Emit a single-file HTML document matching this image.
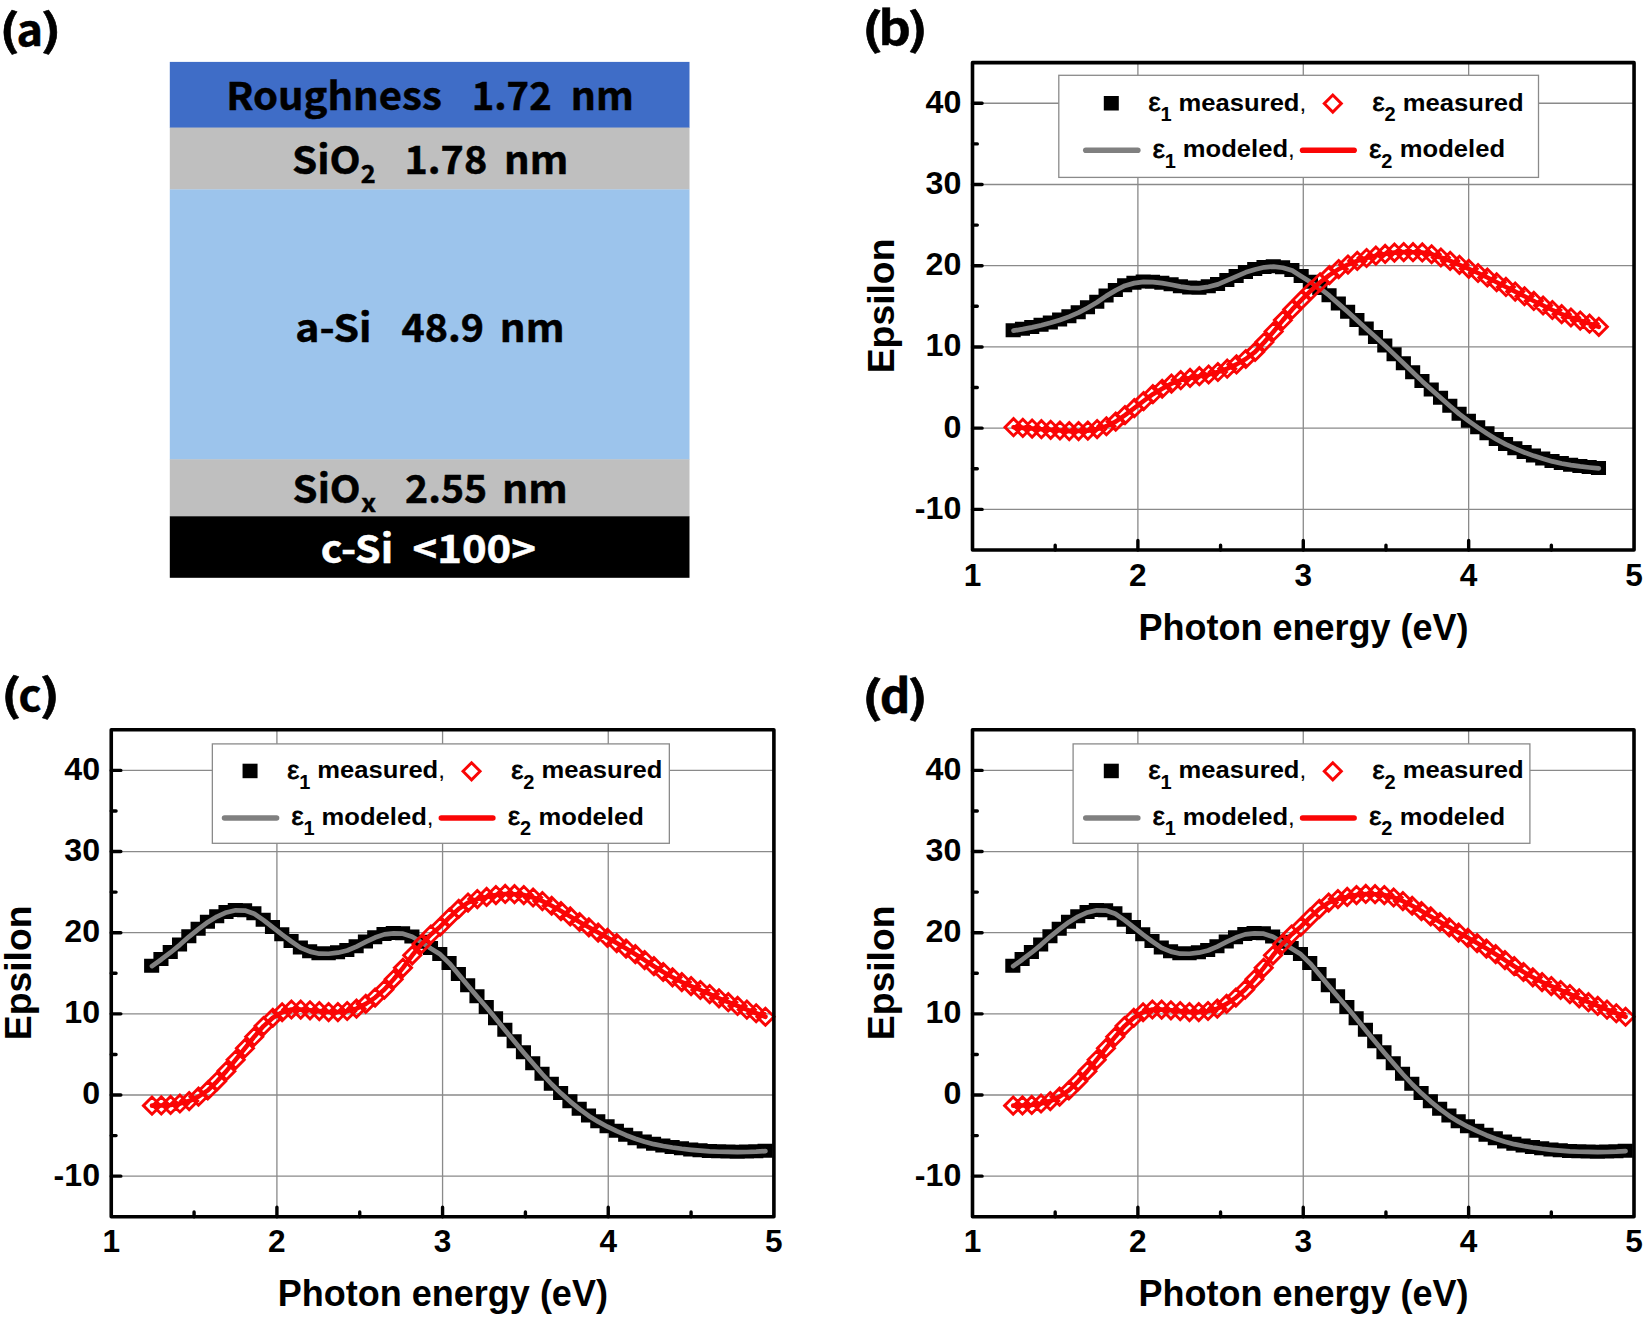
<!DOCTYPE html>
<html lang="en"><head><meta charset="utf-8"><title>Ellipsometry model and dielectric functions</title>
<style>html,body{margin:0;padding:0;background:#fff}svg{display:block}</style></head>
<body>
<svg width="1650" height="1318" viewBox="0 0 1650 1318">
<rect width="1650" height="1318" fill="#fff"/>
<rect x="169.8" y="61.9" width="519.7" height="66" fill="#3f6dc7"/>
<rect x="169.8" y="127.6" width="519.7" height="62" fill="#bfbfbf"/>
<rect x="169.8" y="189.4" width="519.7" height="270.3" fill="#9cc4ec"/>
<rect x="169.8" y="459.3" width="519.7" height="57.5" fill="#bfbfbf"/>
<rect x="169.8" y="516.3" width="519.7" height="61.5" fill="#000"/>
<text font-family="Noto Sans CJK KR, Liberation Sans, sans-serif" font-weight="bold" fill="#000" stroke="#000" stroke-width="0.5"><tspan x="226.15" y="109.9" font-size="38.4" textLength="215.58" lengthAdjust="spacingAndGlyphs">Roughness</tspan> <tspan x="471.71" y="109.9" font-size="38.4" textLength="79.96" lengthAdjust="spacingAndGlyphs">1.72</tspan> <tspan x="570.88" y="109.9" font-size="38.4" textLength="62.95" lengthAdjust="spacingAndGlyphs">nm</tspan></text>
<text font-family="Noto Sans CJK KR, Liberation Sans, sans-serif" font-weight="bold" fill="#000" stroke="#000" stroke-width="0.5"><tspan x="292.01" y="174.4" font-size="38.4" textLength="68.69" lengthAdjust="spacingAndGlyphs">SiO</tspan><tspan x="360.89" y="183.4" font-size="25" textLength="14.88" lengthAdjust="spacingAndGlyphs">2</tspan> <tspan x="404.50" y="174.4" font-size="38.4" textLength="82.72" lengthAdjust="spacingAndGlyphs">1.78</tspan> <tspan x="504.14" y="174.4" font-size="38.4" textLength="64.25" lengthAdjust="spacingAndGlyphs">nm</tspan></text>
<text font-family="Noto Sans CJK KR, Liberation Sans, sans-serif" font-weight="bold" fill="#000" stroke="#000" stroke-width="0.5"><tspan x="295.28" y="341.5" font-size="38.4" textLength="76.28" lengthAdjust="spacingAndGlyphs">a-Si</tspan> <tspan x="401.50" y="341.5" font-size="38.4" textLength="82.52" lengthAdjust="spacingAndGlyphs">48.9</tspan> <tspan x="499.82" y="341.5" font-size="38.4" textLength="64.68" lengthAdjust="spacingAndGlyphs">nm</tspan></text>
<text font-family="Noto Sans CJK KR, Liberation Sans, sans-serif" font-weight="bold" fill="#000" stroke="#000" stroke-width="0.5"><tspan x="292.63" y="503.2" font-size="38.4" textLength="68.05" lengthAdjust="spacingAndGlyphs">SiO</tspan><tspan x="361.30" y="512.2" font-size="25" textLength="14.76" lengthAdjust="spacingAndGlyphs">x</tspan> <tspan x="405.04" y="503.2" font-size="38.4" textLength="82.17" lengthAdjust="spacingAndGlyphs">2.55</tspan> <tspan x="502.09" y="503.2" font-size="38.4" textLength="65.76" lengthAdjust="spacingAndGlyphs">nm</tspan></text>
<text font-family="Noto Sans CJK KR, Liberation Sans, sans-serif" font-weight="bold" fill="#fff" stroke="#fff" stroke-width="0.5"><tspan x="320.89" y="563.1" font-size="38.4" textLength="72.25" lengthAdjust="spacingAndGlyphs">c-Si</tspan> <tspan x="412.47" y="563.1" font-size="38.4" textLength="123.54" lengthAdjust="spacingAndGlyphs">&lt;100&gt;</tspan></text>
<text font-family="Noto Sans CJK KR, Liberation Sans, sans-serif" font-weight="bold" fill="#000" stroke="#000" stroke-width="0.5"><tspan x="-0.66" y="46.1" font-size="43" textLength="20.68" lengthAdjust="spacingAndGlyphs">(</tspan><tspan x="16.55" y="46.1" font-size="42" textLength="26.57" lengthAdjust="spacingAndGlyphs">a</tspan><tspan x="40.57" y="46.1" font-size="43" textLength="21.15" lengthAdjust="spacingAndGlyphs">)</tspan></text>
<text font-family="Noto Sans CJK KR, Liberation Sans, sans-serif" font-weight="bold" fill="#000" stroke="#000" stroke-width="0.5"><tspan x="861.68" y="45.0" font-size="43" textLength="21.47" lengthAdjust="spacingAndGlyphs">(</tspan><tspan x="878.62" y="45.0" font-size="46" textLength="32.45" lengthAdjust="spacingAndGlyphs">b</tspan><tspan x="907.29" y="45.0" font-size="43" textLength="21.00" lengthAdjust="spacingAndGlyphs">)</tspan></text>
<text font-family="Noto Sans CJK KR, Liberation Sans, sans-serif" font-weight="bold" fill="#000" stroke="#000" stroke-width="0.5"><tspan x="0.91" y="710.6" font-size="43" textLength="20.60" lengthAdjust="spacingAndGlyphs">(</tspan><tspan x="18.40" y="710.6" font-size="42" textLength="23.10" lengthAdjust="spacingAndGlyphs">c</tspan><tspan x="39.43" y="710.6" font-size="43" textLength="20.68" lengthAdjust="spacingAndGlyphs">)</tspan></text>
<text font-family="Noto Sans CJK KR, Liberation Sans, sans-serif" font-weight="bold" fill="#000" stroke="#000" stroke-width="0.5"><tspan x="861.68" y="713.0" font-size="43" textLength="21.47" lengthAdjust="spacingAndGlyphs">(</tspan><tspan x="879.72" y="713.0" font-size="46" textLength="30.73" lengthAdjust="spacingAndGlyphs">d</tspan><tspan x="907.29" y="713.0" font-size="43" textLength="21.00" lengthAdjust="spacingAndGlyphs">)</tspan></text>
<path d="M1137.89 62.65V550.00M1303.28 62.65V550.00M1468.66 62.65V550.00M972.50 509.39H1634.05M972.50 428.16H1634.05M972.50 346.94H1634.05M972.50 265.71H1634.05M972.50 184.49H1634.05M972.50 103.26H1634.05" stroke="#8a8a8a" stroke-width="1.3" fill="none"/>
<path d="M1005.62 323.29h15.1v14h-15.1zM1014.91 321.78h15.1v14h-15.1zM1024.20 319.97h15.1v14h-15.1zM1033.49 317.86h15.1v14h-15.1zM1042.78 315.38h15.1v14h-15.1zM1052.07 312.53h15.1v14h-15.1zM1061.36 309.19h15.1v14h-15.1zM1070.65 305.17h15.1v14h-15.1zM1079.94 300.35h15.1v14h-15.1zM1089.23 294.85h15.1v14h-15.1zM1098.52 288.48h15.1v14h-15.1zM1107.81 282.96h15.1v14h-15.1zM1117.10 278.29h15.1v14h-15.1zM1126.39 275.73h15.1v14h-15.1zM1135.68 274.41h15.1v14h-15.1zM1144.97 274.80h15.1v14h-15.1zM1154.27 275.75h15.1v14h-15.1zM1163.56 277.36h15.1v14h-15.1zM1172.85 279.20h15.1v14h-15.1zM1182.14 280.41h15.1v14h-15.1zM1191.43 280.71h15.1v14h-15.1zM1200.72 279.36h15.1v14h-15.1zM1210.01 276.98h15.1v14h-15.1zM1219.30 272.95h15.1v14h-15.1zM1228.59 268.99h15.1v14h-15.1zM1237.88 264.95h15.1v14h-15.1zM1247.17 262.08h15.1v14h-15.1zM1256.46 259.93h15.1v14h-15.1zM1265.75 259.15h15.1v14h-15.1zM1275.04 260.33h15.1v14h-15.1zM1284.33 263.08h15.1v14h-15.1zM1293.62 269.10h15.1v14h-15.1zM1302.91 274.86h15.1v14h-15.1zM1312.21 281.05h15.1v14h-15.1zM1321.50 288.30h15.1v14h-15.1zM1330.79 296.47h15.1v14h-15.1zM1340.08 304.70h15.1v14h-15.1zM1349.37 313.12h15.1v14h-15.1zM1358.66 321.52h15.1v14h-15.1zM1367.95 329.88h15.1v14h-15.1zM1377.24 338.43h15.1v14h-15.1zM1386.53 347.24h15.1v14h-15.1zM1395.82 356.13h15.1v14h-15.1zM1405.11 365.15h15.1v14h-15.1zM1414.40 374.01h15.1v14h-15.1zM1423.69 382.45h15.1v14h-15.1zM1432.98 390.65h15.1v14h-15.1zM1442.27 398.81h15.1v14h-15.1zM1451.56 406.71h15.1v14h-15.1zM1460.85 413.78h15.1v14h-15.1zM1470.14 420.23h15.1v14h-15.1zM1479.44 426.30h15.1v14h-15.1zM1488.73 432.03h15.1v14h-15.1zM1498.02 436.99h15.1v14h-15.1zM1507.31 441.27h15.1v14h-15.1zM1516.60 445.05h15.1v14h-15.1zM1525.89 448.46h15.1v14h-15.1zM1535.18 451.41h15.1v14h-15.1zM1544.47 453.99h15.1v14h-15.1zM1553.76 456.11h15.1v14h-15.1zM1563.05 457.71h15.1v14h-15.1zM1572.34 459.00h15.1v14h-15.1zM1581.63 460.06h15.1v14h-15.1zM1590.92 460.93h15.1v14h-15.1z" fill="#000"/>
<path d="M1013.52 330.69L1022.81 329.18L1032.10 327.37L1041.39 325.26L1050.68 322.78L1059.97 319.93L1069.26 316.59L1078.55 312.57L1087.84 307.75L1097.13 302.25L1106.42 295.88L1115.71 290.36L1125.00 285.69L1134.29 283.13L1143.58 281.81L1152.87 282.20L1162.17 283.15L1171.46 284.76L1180.75 286.60L1190.04 287.81L1199.33 288.11L1208.62 286.76L1217.91 284.38L1227.20 280.35L1236.49 276.39L1245.78 272.35L1255.07 269.48L1264.36 267.33L1273.65 266.55L1282.94 267.73L1292.23 270.48L1301.52 276.50L1310.81 282.26L1320.11 288.45L1329.40 295.70L1338.69 303.87L1347.98 312.10L1357.27 320.52L1366.56 328.92L1375.85 337.28L1385.14 345.83L1394.43 354.64L1403.72 363.53L1413.01 372.55L1422.30 381.41L1431.59 389.85L1440.88 398.05L1450.17 406.21L1459.46 414.11L1468.75 421.18L1478.04 427.63L1487.34 433.70L1496.63 439.43L1505.92 444.39L1515.21 448.67L1524.50 452.45L1533.79 455.86L1543.08 458.81L1552.37 461.39L1561.66 463.51L1570.95 465.11L1580.24 466.40L1589.53 467.46L1598.82 468.33" stroke="#808080" stroke-width="4.7" fill="none" stroke-linecap="round" stroke-linejoin="round"/>
<path d="M1013.52 427.19L1022.81 427.87L1032.10 428.54L1041.39 429.19L1050.68 429.83L1059.97 430.52L1069.26 431.11L1078.55 431.07L1087.84 430.63L1097.13 429.07L1106.42 426.25L1115.71 421.65L1125.00 415.13L1134.29 408.22L1143.58 401.05L1152.87 394.17L1162.17 388.73L1171.46 383.64L1180.75 380.12L1190.04 377.91L1199.33 376.17L1208.62 374.49L1217.91 371.98L1227.20 368.68L1236.49 364.38L1245.78 358.98L1255.07 351.88L1264.36 342.12L1273.65 331.42L1282.94 320.12L1292.23 309.43L1301.52 299.93L1310.81 290.73L1320.11 282.23L1329.40 275.15L1338.69 269.11L1347.98 264.53L1357.27 260.90L1366.56 258.02L1375.85 255.61L1385.14 253.92L1394.43 252.58L1403.72 252.07L1413.01 252.19L1422.30 252.47L1431.59 254.27L1440.88 257.52L1450.17 260.89L1459.46 264.80L1468.75 268.81L1478.04 273.01L1487.34 277.48L1496.63 282.25L1505.92 286.97L1515.21 291.61L1524.50 296.24L1533.79 300.93L1543.08 305.50L1552.37 310.01L1561.66 314.14L1570.95 317.50L1580.24 320.53L1589.53 323.67L1598.82 326.80" stroke="#fa0505" stroke-width="4.6" fill="none" stroke-linecap="round" stroke-linejoin="round"/>
<path d="M1004.97 427.19l8.55 -8.55l8.55 8.55l-8.55 8.55zM1014.26 427.87l8.55 -8.55l8.55 8.55l-8.55 8.55zM1023.55 428.54l8.55 -8.55l8.55 8.55l-8.55 8.55zM1032.84 429.19l8.55 -8.55l8.55 8.55l-8.55 8.55zM1042.13 429.83l8.55 -8.55l8.55 8.55l-8.55 8.55zM1051.42 430.52l8.55 -8.55l8.55 8.55l-8.55 8.55zM1060.71 431.11l8.55 -8.55l8.55 8.55l-8.55 8.55zM1070.00 431.07l8.55 -8.55l8.55 8.55l-8.55 8.55zM1079.29 430.63l8.55 -8.55l8.55 8.55l-8.55 8.55zM1088.58 429.07l8.55 -8.55l8.55 8.55l-8.55 8.55zM1097.87 426.25l8.55 -8.55l8.55 8.55l-8.55 8.55zM1107.16 421.65l8.55 -8.55l8.55 8.55l-8.55 8.55zM1116.45 415.13l8.55 -8.55l8.55 8.55l-8.55 8.55zM1125.74 408.22l8.55 -8.55l8.55 8.55l-8.55 8.55zM1135.03 401.05l8.55 -8.55l8.55 8.55l-8.55 8.55zM1144.32 394.17l8.55 -8.55l8.55 8.55l-8.55 8.55zM1153.62 388.73l8.55 -8.55l8.55 8.55l-8.55 8.55zM1162.91 383.64l8.55 -8.55l8.55 8.55l-8.55 8.55zM1172.20 380.12l8.55 -8.55l8.55 8.55l-8.55 8.55zM1181.49 377.91l8.55 -8.55l8.55 8.55l-8.55 8.55zM1190.78 376.17l8.55 -8.55l8.55 8.55l-8.55 8.55zM1200.07 374.49l8.55 -8.55l8.55 8.55l-8.55 8.55zM1209.36 371.98l8.55 -8.55l8.55 8.55l-8.55 8.55zM1218.65 368.68l8.55 -8.55l8.55 8.55l-8.55 8.55zM1227.94 364.38l8.55 -8.55l8.55 8.55l-8.55 8.55zM1237.23 358.98l8.55 -8.55l8.55 8.55l-8.55 8.55zM1246.52 351.88l8.55 -8.55l8.55 8.55l-8.55 8.55zM1255.81 342.12l8.55 -8.55l8.55 8.55l-8.55 8.55zM1265.10 331.42l8.55 -8.55l8.55 8.55l-8.55 8.55zM1274.39 320.12l8.55 -8.55l8.55 8.55l-8.55 8.55zM1283.68 309.43l8.55 -8.55l8.55 8.55l-8.55 8.55zM1292.97 299.93l8.55 -8.55l8.55 8.55l-8.55 8.55zM1302.26 290.73l8.55 -8.55l8.55 8.55l-8.55 8.55zM1311.56 282.23l8.55 -8.55l8.55 8.55l-8.55 8.55zM1320.85 275.15l8.55 -8.55l8.55 8.55l-8.55 8.55zM1330.14 269.11l8.55 -8.55l8.55 8.55l-8.55 8.55zM1339.43 264.53l8.55 -8.55l8.55 8.55l-8.55 8.55zM1348.72 260.90l8.55 -8.55l8.55 8.55l-8.55 8.55zM1358.01 258.02l8.55 -8.55l8.55 8.55l-8.55 8.55zM1367.30 255.61l8.55 -8.55l8.55 8.55l-8.55 8.55zM1376.59 253.92l8.55 -8.55l8.55 8.55l-8.55 8.55zM1385.88 252.58l8.55 -8.55l8.55 8.55l-8.55 8.55zM1395.17 252.07l8.55 -8.55l8.55 8.55l-8.55 8.55zM1404.46 252.19l8.55 -8.55l8.55 8.55l-8.55 8.55zM1413.75 252.47l8.55 -8.55l8.55 8.55l-8.55 8.55zM1423.04 254.27l8.55 -8.55l8.55 8.55l-8.55 8.55zM1432.33 257.52l8.55 -8.55l8.55 8.55l-8.55 8.55zM1441.62 260.89l8.55 -8.55l8.55 8.55l-8.55 8.55zM1450.91 264.80l8.55 -8.55l8.55 8.55l-8.55 8.55zM1460.20 268.81l8.55 -8.55l8.55 8.55l-8.55 8.55zM1469.49 273.01l8.55 -8.55l8.55 8.55l-8.55 8.55zM1478.79 277.48l8.55 -8.55l8.55 8.55l-8.55 8.55zM1488.08 282.25l8.55 -8.55l8.55 8.55l-8.55 8.55zM1497.37 286.97l8.55 -8.55l8.55 8.55l-8.55 8.55zM1506.66 291.61l8.55 -8.55l8.55 8.55l-8.55 8.55zM1515.95 296.24l8.55 -8.55l8.55 8.55l-8.55 8.55zM1525.24 300.93l8.55 -8.55l8.55 8.55l-8.55 8.55zM1534.53 305.50l8.55 -8.55l8.55 8.55l-8.55 8.55zM1543.82 310.01l8.55 -8.55l8.55 8.55l-8.55 8.55zM1553.11 314.14l8.55 -8.55l8.55 8.55l-8.55 8.55zM1562.40 317.50l8.55 -8.55l8.55 8.55l-8.55 8.55zM1571.69 320.53l8.55 -8.55l8.55 8.55l-8.55 8.55zM1580.98 323.67l8.55 -8.55l8.55 8.55l-8.55 8.55zM1590.27 326.80l8.55 -8.55l8.55 8.55l-8.55 8.55z" stroke="#fa0505" stroke-width="2.9" fill="none" stroke-linejoin="miter"/>
<path d="M972.50 509.39h9.6M972.50 428.16h9.6M972.50 346.94h9.6M972.50 265.71h9.6M972.50 184.49h9.6M972.50 103.26h9.6M972.50 468.77h4.8M972.50 387.55h4.8M972.50 306.32h4.8M972.50 225.10h4.8M972.50 143.88h4.8M1137.89 550.00v-9.6M1303.28 550.00v-9.6M1468.66 550.00v-9.6M1055.19 550.00v-4.8M1220.58 550.00v-4.8M1385.97 550.00v-4.8M1551.36 550.00v-4.8" stroke="#000" stroke-width="3.4" fill="none" stroke-linecap="round"/>
<rect x="972.50" y="62.65" width="661.55" height="487.35" fill="none" stroke="#000" stroke-width="3.6" stroke-linejoin="round"/>
<text x="961.30" y="518.79" text-anchor="end" font-family="Liberation Sans, Arial, sans-serif" font-weight="bold" font-size="32.2">-10</text>
<text x="961.30" y="437.56" text-anchor="end" font-family="Liberation Sans, Arial, sans-serif" font-weight="bold" font-size="32.2">0</text>
<text x="961.30" y="356.34" text-anchor="end" font-family="Liberation Sans, Arial, sans-serif" font-weight="bold" font-size="32.2">10</text>
<text x="961.30" y="275.11" text-anchor="end" font-family="Liberation Sans, Arial, sans-serif" font-weight="bold" font-size="32.2">20</text>
<text x="961.30" y="193.89" text-anchor="end" font-family="Liberation Sans, Arial, sans-serif" font-weight="bold" font-size="32.2">30</text>
<text x="961.30" y="112.66" text-anchor="end" font-family="Liberation Sans, Arial, sans-serif" font-weight="bold" font-size="32.2">40</text>
<text x="972.50" y="585.50" text-anchor="middle" font-family="Liberation Sans, Arial, sans-serif" font-weight="bold" font-size="31.6">1</text>
<text x="1137.89" y="585.50" text-anchor="middle" font-family="Liberation Sans, Arial, sans-serif" font-weight="bold" font-size="31.6">2</text>
<text x="1303.28" y="585.50" text-anchor="middle" font-family="Liberation Sans, Arial, sans-serif" font-weight="bold" font-size="31.6">3</text>
<text x="1468.66" y="585.50" text-anchor="middle" font-family="Liberation Sans, Arial, sans-serif" font-weight="bold" font-size="31.6">4</text>
<text x="1634.05" y="585.50" text-anchor="middle" font-family="Liberation Sans, Arial, sans-serif" font-weight="bold" font-size="31.6">5</text>
<text x="1303.58" y="639.60" text-anchor="middle" font-family="Liberation Sans, Arial, sans-serif" font-weight="bold" font-size="36">Photon energy (eV)</text>
<text transform="translate(893.50 305.91) rotate(-90)" text-anchor="middle" font-family="Liberation Sans, Arial, sans-serif" font-weight="bold" font-size="37.3">Epsilon</text>
<rect x="1058.80" y="75.30" width="479.70" height="102.10" fill="#fff" stroke="#8a8a8a" stroke-width="1.3"/>
<rect x="1103.80" y="96.00" width="15" height="14.5" fill="#000"/>
<text font-family="Liberation Sans, Arial, sans-serif" font-weight="bold" font-size="24.2"><tspan x="1148.50" y="111.20" font-weight="normal" font-size="25" stroke="#000" stroke-width="0.8" textLength="12.1" lengthAdjust="spacingAndGlyphs">ε</tspan><tspan x="1160.50" y="121.00" font-size="20">1</tspan> <tspan x="1178.60" y="110.50" textLength="120.91" lengthAdjust="spacingAndGlyphs">measured</tspan><tspan font-weight="normal">,</tspan></text>
<path d="M1324.25 103.60l8.55 -8.55l8.55 8.55l-8.55 8.55z" stroke="#fa0505" stroke-width="2.9" fill="#fff"/>
<text font-family="Liberation Sans, Arial, sans-serif" font-weight="bold" font-size="24.2"><tspan x="1372.60" y="111.20" font-weight="normal" font-size="25" stroke="#000" stroke-width="0.8" textLength="12.1" lengthAdjust="spacingAndGlyphs">ε</tspan><tspan x="1384.60" y="121.00" font-size="20">2</tspan> <tspan x="1402.80" y="110.50" textLength="120.91" lengthAdjust="spacingAndGlyphs">measured</tspan></text>
<path d="M1085.80 150.30h52" stroke="#808080" stroke-width="5.6" stroke-linecap="round"/>
<text font-family="Liberation Sans, Arial, sans-serif" font-weight="bold" font-size="24.2"><tspan x="1152.80" y="157.70" font-weight="normal" font-size="25" stroke="#000" stroke-width="0.8" textLength="12.1" lengthAdjust="spacingAndGlyphs">ε</tspan><tspan x="1164.80" y="167.50" font-size="20">1</tspan> <tspan x="1182.80" y="157.00" textLength="105.24" lengthAdjust="spacingAndGlyphs">modeled</tspan><tspan font-weight="normal">,</tspan></text>
<path d="M1302.60 150.30h51.5" stroke="#fa0505" stroke-width="5.6" stroke-linecap="round"/>
<text font-family="Liberation Sans, Arial, sans-serif" font-weight="bold" font-size="24.2"><tspan x="1369.30" y="157.70" font-weight="normal" font-size="25" stroke="#000" stroke-width="0.8" textLength="12.1" lengthAdjust="spacingAndGlyphs">ε</tspan><tspan x="1381.30" y="167.50" font-size="20">2</tspan> <tspan x="1399.80" y="157.00" textLength="105.24" lengthAdjust="spacingAndGlyphs">modeled</tspan></text>
<path d="M276.91 729.80V1216.75M442.57 729.80V1216.75M608.24 729.80V1216.75M111.25 1176.17H773.90M111.25 1095.01H773.90M111.25 1013.85H773.90M111.25 932.70H773.90M111.25 851.54H773.90M111.25 770.38H773.90" stroke="#8a8a8a" stroke-width="1.3" fill="none"/>
<path d="M144.10 958.70h15.1v14h-15.1zM153.40 952.09h15.1v14h-15.1zM162.69 945.05h15.1v14h-15.1zM171.99 937.42h15.1v14h-15.1zM181.28 929.21h15.1v14h-15.1zM190.58 921.75h15.1v14h-15.1zM199.87 914.79h15.1v14h-15.1zM209.17 909.16h15.1v14h-15.1zM218.46 905.04h15.1v14h-15.1zM227.76 902.93h15.1v14h-15.1zM237.05 903.16h15.1v14h-15.1zM246.34 906.30h15.1v14h-15.1zM255.64 912.70h15.1v14h-15.1zM264.93 919.94h15.1v14h-15.1zM274.23 927.25h15.1v14h-15.1zM283.52 934.11h15.1v14h-15.1zM292.82 940.46h15.1v14h-15.1zM302.11 944.20h15.1v14h-15.1zM311.41 946.32h15.1v14h-15.1zM320.70 946.34h15.1v14h-15.1zM330.00 945.30h15.1v14h-15.1zM339.29 943.07h15.1v14h-15.1zM348.59 939.27h15.1v14h-15.1zM357.88 934.53h15.1v14h-15.1zM367.18 930.18h15.1v14h-15.1zM376.47 926.96h15.1v14h-15.1zM385.76 925.96h15.1v14h-15.1zM395.06 926.30h15.1v14h-15.1zM404.35 929.43h15.1v14h-15.1zM413.65 934.80h15.1v14h-15.1zM422.94 941.12h15.1v14h-15.1zM432.24 946.96h15.1v14h-15.1zM441.53 955.95h15.1v14h-15.1zM450.83 967.06h15.1v14h-15.1zM460.12 978.26h15.1v14h-15.1zM469.42 989.25h15.1v14h-15.1zM478.71 1000.10h15.1v14h-15.1zM488.01 1011.27h15.1v14h-15.1zM497.30 1022.80h15.1v14h-15.1zM506.60 1034.15h15.1v14h-15.1zM515.89 1045.32h15.1v14h-15.1zM525.18 1056.19h15.1v14h-15.1zM534.48 1066.86h15.1v14h-15.1zM543.77 1076.84h15.1v14h-15.1zM553.07 1085.92h15.1v14h-15.1zM562.36 1094.22h15.1v14h-15.1zM571.66 1101.73h15.1v14h-15.1zM580.95 1108.49h15.1v14h-15.1zM590.25 1114.27h15.1v14h-15.1zM599.54 1119.33h15.1v14h-15.1zM608.84 1123.81h15.1v14h-15.1zM618.13 1127.81h15.1v14h-15.1zM627.43 1131.28h15.1v14h-15.1zM636.72 1134.38h15.1v14h-15.1zM646.02 1136.77h15.1v14h-15.1zM655.31 1138.59h15.1v14h-15.1zM664.60 1140.08h15.1v14h-15.1zM673.90 1141.36h15.1v14h-15.1zM683.19 1142.40h15.1v14h-15.1zM692.49 1143.27h15.1v14h-15.1zM701.78 1143.99h15.1v14h-15.1zM711.08 1144.34h15.1v14h-15.1zM720.37 1144.55h15.1v14h-15.1zM729.67 1144.66h15.1v14h-15.1zM738.96 1144.60h15.1v14h-15.1zM748.26 1144.27h15.1v14h-15.1zM757.55 1143.73h15.1v14h-15.1z" fill="#000"/>
<path d="M152.00 966.10L161.30 959.49L170.59 952.45L179.89 944.82L189.18 936.61L198.48 929.15L207.77 922.19L217.07 916.56L226.36 912.44L235.66 910.33L244.95 910.56L254.24 913.70L263.54 920.10L272.83 927.34L282.13 934.65L291.42 941.51L300.72 947.86L310.01 951.60L319.31 953.72L328.60 953.74L337.90 952.70L347.19 950.47L356.49 946.67L365.78 941.93L375.08 937.58L384.37 934.36L393.66 933.36L402.96 933.70L412.25 936.83L421.55 942.20L430.84 948.52L440.14 954.36L449.43 963.35L458.73 974.46L468.02 985.66L477.32 996.65L486.61 1007.50L495.91 1018.67L505.20 1030.20L514.50 1041.55L523.79 1052.72L533.08 1063.59L542.38 1074.26L551.67 1084.24L560.97 1093.32L570.26 1101.62L579.56 1109.13L588.85 1115.89L598.15 1121.67L607.44 1126.73L616.74 1131.21L626.03 1135.21L635.33 1138.68L644.62 1141.78L653.92 1144.17L663.21 1145.99L672.50 1147.48L681.80 1148.76L691.09 1149.80L700.39 1150.67L709.68 1151.39L718.98 1151.74L728.27 1151.95L737.57 1152.06L746.86 1152.00L756.16 1151.67L765.45 1151.13" stroke="#808080" stroke-width="4.7" fill="none" stroke-linecap="round" stroke-linejoin="round"/>
<path d="M152.00 1105.64L161.30 1105.43L170.59 1104.94L179.89 1103.52L189.18 1101.09L198.48 1096.70L207.77 1090.44L217.07 1081.31L226.36 1071.13L235.66 1059.83L244.95 1048.22L254.24 1036.67L263.54 1026.09L272.83 1017.73L282.13 1012.27L291.42 1009.49L300.72 1009.64L310.01 1010.29L319.31 1011.12L328.60 1012.05L337.90 1012.08L347.19 1011.01L356.49 1008.64L365.78 1003.89L375.08 997.60L384.37 989.57L393.66 979.29L402.96 967.85L412.25 955.33L421.55 944.12L430.84 934.52L440.14 926.74L449.43 917.48L458.73 908.89L468.02 902.53L477.32 899.05L486.61 896.93L495.91 895.09L505.20 893.95L514.50 894.18L523.79 895.06L533.08 897.49L542.38 901.07L551.67 905.73L560.97 911.07L570.26 916.46L579.56 921.98L588.85 927.30L598.15 932.54L607.44 937.81L616.74 943.11L626.03 948.57L635.33 954.20L644.62 960.05L653.92 966.21L663.21 972.00L672.50 977.28L681.80 982.04L691.09 986.10L700.39 989.98L709.68 994.12L718.98 998.28L728.27 1002.20L737.57 1005.96L746.86 1009.64L756.16 1013.24L765.45 1016.76" stroke="#fa0505" stroke-width="4.6" fill="none" stroke-linecap="round" stroke-linejoin="round"/>
<path d="M143.45 1105.64l8.55 -8.55l8.55 8.55l-8.55 8.55zM152.75 1105.43l8.55 -8.55l8.55 8.55l-8.55 8.55zM162.04 1104.94l8.55 -8.55l8.55 8.55l-8.55 8.55zM171.34 1103.52l8.55 -8.55l8.55 8.55l-8.55 8.55zM180.63 1101.09l8.55 -8.55l8.55 8.55l-8.55 8.55zM189.93 1096.70l8.55 -8.55l8.55 8.55l-8.55 8.55zM199.22 1090.44l8.55 -8.55l8.55 8.55l-8.55 8.55zM208.52 1081.31l8.55 -8.55l8.55 8.55l-8.55 8.55zM217.81 1071.13l8.55 -8.55l8.55 8.55l-8.55 8.55zM227.11 1059.83l8.55 -8.55l8.55 8.55l-8.55 8.55zM236.40 1048.22l8.55 -8.55l8.55 8.55l-8.55 8.55zM245.69 1036.67l8.55 -8.55l8.55 8.55l-8.55 8.55zM254.99 1026.09l8.55 -8.55l8.55 8.55l-8.55 8.55zM264.28 1017.73l8.55 -8.55l8.55 8.55l-8.55 8.55zM273.58 1012.27l8.55 -8.55l8.55 8.55l-8.55 8.55zM282.87 1009.49l8.55 -8.55l8.55 8.55l-8.55 8.55zM292.17 1009.64l8.55 -8.55l8.55 8.55l-8.55 8.55zM301.46 1010.29l8.55 -8.55l8.55 8.55l-8.55 8.55zM310.76 1011.12l8.55 -8.55l8.55 8.55l-8.55 8.55zM320.05 1012.05l8.55 -8.55l8.55 8.55l-8.55 8.55zM329.35 1012.08l8.55 -8.55l8.55 8.55l-8.55 8.55zM338.64 1011.01l8.55 -8.55l8.55 8.55l-8.55 8.55zM347.94 1008.64l8.55 -8.55l8.55 8.55l-8.55 8.55zM357.23 1003.89l8.55 -8.55l8.55 8.55l-8.55 8.55zM366.53 997.60l8.55 -8.55l8.55 8.55l-8.55 8.55zM375.82 989.57l8.55 -8.55l8.55 8.55l-8.55 8.55zM385.11 979.29l8.55 -8.55l8.55 8.55l-8.55 8.55zM394.41 967.85l8.55 -8.55l8.55 8.55l-8.55 8.55zM403.70 955.33l8.55 -8.55l8.55 8.55l-8.55 8.55zM413.00 944.12l8.55 -8.55l8.55 8.55l-8.55 8.55zM422.29 934.52l8.55 -8.55l8.55 8.55l-8.55 8.55zM431.59 926.74l8.55 -8.55l8.55 8.55l-8.55 8.55zM440.88 917.48l8.55 -8.55l8.55 8.55l-8.55 8.55zM450.18 908.89l8.55 -8.55l8.55 8.55l-8.55 8.55zM459.47 902.53l8.55 -8.55l8.55 8.55l-8.55 8.55zM468.77 899.05l8.55 -8.55l8.55 8.55l-8.55 8.55zM478.06 896.93l8.55 -8.55l8.55 8.55l-8.55 8.55zM487.36 895.09l8.55 -8.55l8.55 8.55l-8.55 8.55zM496.65 893.95l8.55 -8.55l8.55 8.55l-8.55 8.55zM505.95 894.18l8.55 -8.55l8.55 8.55l-8.55 8.55zM515.24 895.06l8.55 -8.55l8.55 8.55l-8.55 8.55zM524.53 897.49l8.55 -8.55l8.55 8.55l-8.55 8.55zM533.83 901.07l8.55 -8.55l8.55 8.55l-8.55 8.55zM543.12 905.73l8.55 -8.55l8.55 8.55l-8.55 8.55zM552.42 911.07l8.55 -8.55l8.55 8.55l-8.55 8.55zM561.71 916.46l8.55 -8.55l8.55 8.55l-8.55 8.55zM571.01 921.98l8.55 -8.55l8.55 8.55l-8.55 8.55zM580.30 927.30l8.55 -8.55l8.55 8.55l-8.55 8.55zM589.60 932.54l8.55 -8.55l8.55 8.55l-8.55 8.55zM598.89 937.81l8.55 -8.55l8.55 8.55l-8.55 8.55zM608.19 943.11l8.55 -8.55l8.55 8.55l-8.55 8.55zM617.48 948.57l8.55 -8.55l8.55 8.55l-8.55 8.55zM626.78 954.20l8.55 -8.55l8.55 8.55l-8.55 8.55zM636.07 960.05l8.55 -8.55l8.55 8.55l-8.55 8.55zM645.37 966.21l8.55 -8.55l8.55 8.55l-8.55 8.55zM654.66 972.00l8.55 -8.55l8.55 8.55l-8.55 8.55zM663.95 977.28l8.55 -8.55l8.55 8.55l-8.55 8.55zM673.25 982.04l8.55 -8.55l8.55 8.55l-8.55 8.55zM682.54 986.10l8.55 -8.55l8.55 8.55l-8.55 8.55zM691.84 989.98l8.55 -8.55l8.55 8.55l-8.55 8.55zM701.13 994.12l8.55 -8.55l8.55 8.55l-8.55 8.55zM710.43 998.28l8.55 -8.55l8.55 8.55l-8.55 8.55zM719.72 1002.20l8.55 -8.55l8.55 8.55l-8.55 8.55zM729.02 1005.96l8.55 -8.55l8.55 8.55l-8.55 8.55zM738.31 1009.64l8.55 -8.55l8.55 8.55l-8.55 8.55zM747.61 1013.24l8.55 -8.55l8.55 8.55l-8.55 8.55zM756.90 1016.76l8.55 -8.55l8.55 8.55l-8.55 8.55z" stroke="#fa0505" stroke-width="2.9" fill="none" stroke-linejoin="miter"/>
<path d="M111.25 1176.17h9.6M111.25 1095.01h9.6M111.25 1013.85h9.6M111.25 932.70h9.6M111.25 851.54h9.6M111.25 770.38h9.6M111.25 1135.59h4.8M111.25 1054.43h4.8M111.25 973.27h4.8M111.25 892.12h4.8M111.25 810.96h4.8M276.91 1216.75v-9.6M442.57 1216.75v-9.6M608.24 1216.75v-9.6M194.08 1216.75v-4.8M359.74 1216.75v-4.8M525.41 1216.75v-4.8M691.07 1216.75v-4.8" stroke="#000" stroke-width="3.4" fill="none" stroke-linecap="round"/>
<rect x="111.25" y="729.80" width="662.65" height="486.95" fill="none" stroke="#000" stroke-width="3.6" stroke-linejoin="round"/>
<text x="100.05" y="1185.57" text-anchor="end" font-family="Liberation Sans, Arial, sans-serif" font-weight="bold" font-size="32.2">-10</text>
<text x="100.05" y="1104.41" text-anchor="end" font-family="Liberation Sans, Arial, sans-serif" font-weight="bold" font-size="32.2">0</text>
<text x="100.05" y="1023.25" text-anchor="end" font-family="Liberation Sans, Arial, sans-serif" font-weight="bold" font-size="32.2">10</text>
<text x="100.05" y="942.10" text-anchor="end" font-family="Liberation Sans, Arial, sans-serif" font-weight="bold" font-size="32.2">20</text>
<text x="100.05" y="860.94" text-anchor="end" font-family="Liberation Sans, Arial, sans-serif" font-weight="bold" font-size="32.2">30</text>
<text x="100.05" y="779.78" text-anchor="end" font-family="Liberation Sans, Arial, sans-serif" font-weight="bold" font-size="32.2">40</text>
<text x="111.25" y="1252.25" text-anchor="middle" font-family="Liberation Sans, Arial, sans-serif" font-weight="bold" font-size="31.6">1</text>
<text x="276.91" y="1252.25" text-anchor="middle" font-family="Liberation Sans, Arial, sans-serif" font-weight="bold" font-size="31.6">2</text>
<text x="442.57" y="1252.25" text-anchor="middle" font-family="Liberation Sans, Arial, sans-serif" font-weight="bold" font-size="31.6">3</text>
<text x="608.24" y="1252.25" text-anchor="middle" font-family="Liberation Sans, Arial, sans-serif" font-weight="bold" font-size="31.6">4</text>
<text x="773.90" y="1252.25" text-anchor="middle" font-family="Liberation Sans, Arial, sans-serif" font-weight="bold" font-size="31.6">5</text>
<text x="442.88" y="1306.35" text-anchor="middle" font-family="Liberation Sans, Arial, sans-serif" font-weight="bold" font-size="36">Photon energy (eV)</text>
<text transform="translate(31.45 972.90) rotate(-90)" text-anchor="middle" font-family="Liberation Sans, Arial, sans-serif" font-weight="bold" font-size="37.3">Epsilon</text>
<rect x="212.35" y="743.90" width="457.00" height="99.40" fill="#fff" stroke="#8a8a8a" stroke-width="1.3"/>
<rect x="242.55" y="763.70" width="15" height="14.5" fill="#000"/>
<text font-family="Liberation Sans, Arial, sans-serif" font-weight="bold" font-size="24.2"><tspan x="287.25" y="778.90" font-weight="normal" font-size="25" stroke="#000" stroke-width="0.8" textLength="12.1" lengthAdjust="spacingAndGlyphs">ε</tspan><tspan x="299.25" y="788.70" font-size="20">1</tspan> <tspan x="317.35" y="778.20" textLength="120.91" lengthAdjust="spacingAndGlyphs">measured</tspan><tspan font-weight="normal">,</tspan></text>
<path d="M463.00 771.30l8.55 -8.55l8.55 8.55l-8.55 8.55z" stroke="#fa0505" stroke-width="2.9" fill="#fff"/>
<text font-family="Liberation Sans, Arial, sans-serif" font-weight="bold" font-size="24.2"><tspan x="511.35" y="778.90" font-weight="normal" font-size="25" stroke="#000" stroke-width="0.8" textLength="12.1" lengthAdjust="spacingAndGlyphs">ε</tspan><tspan x="523.35" y="788.70" font-size="20">2</tspan> <tspan x="541.55" y="778.20" textLength="120.91" lengthAdjust="spacingAndGlyphs">measured</tspan></text>
<path d="M224.55 818.00h52" stroke="#808080" stroke-width="5.6" stroke-linecap="round"/>
<text font-family="Liberation Sans, Arial, sans-serif" font-weight="bold" font-size="24.2"><tspan x="291.55" y="825.40" font-weight="normal" font-size="25" stroke="#000" stroke-width="0.8" textLength="12.1" lengthAdjust="spacingAndGlyphs">ε</tspan><tspan x="303.55" y="835.20" font-size="20">1</tspan> <tspan x="321.55" y="824.70" textLength="105.24" lengthAdjust="spacingAndGlyphs">modeled</tspan><tspan font-weight="normal">,</tspan></text>
<path d="M441.35 818.00h51.5" stroke="#fa0505" stroke-width="5.6" stroke-linecap="round"/>
<text font-family="Liberation Sans, Arial, sans-serif" font-weight="bold" font-size="24.2"><tspan x="508.05" y="825.40" font-weight="normal" font-size="25" stroke="#000" stroke-width="0.8" textLength="12.1" lengthAdjust="spacingAndGlyphs">ε</tspan><tspan x="520.05" y="835.20" font-size="20">2</tspan> <tspan x="538.55" y="824.70" textLength="105.24" lengthAdjust="spacingAndGlyphs">modeled</tspan></text>
<path d="M1137.88 729.80V1216.75M1303.25 729.80V1216.75M1468.62 729.80V1216.75M972.50 1176.17H1634.00M972.50 1095.01H1634.00M972.50 1013.85H1634.00M972.50 932.70H1634.00M972.50 851.54H1634.00M972.50 770.38H1634.00" stroke="#8a8a8a" stroke-width="1.3" fill="none"/>
<path d="M1005.28 958.70h15.1v14h-15.1zM1014.56 952.09h15.1v14h-15.1zM1023.84 945.05h15.1v14h-15.1zM1033.12 937.42h15.1v14h-15.1zM1042.40 929.21h15.1v14h-15.1zM1051.67 921.75h15.1v14h-15.1zM1060.95 914.79h15.1v14h-15.1zM1070.23 909.16h15.1v14h-15.1zM1079.51 905.04h15.1v14h-15.1zM1088.79 902.93h15.1v14h-15.1zM1098.07 903.16h15.1v14h-15.1zM1107.35 906.30h15.1v14h-15.1zM1116.62 912.70h15.1v14h-15.1zM1125.90 919.94h15.1v14h-15.1zM1135.18 927.25h15.1v14h-15.1zM1144.46 934.11h15.1v14h-15.1zM1153.74 940.46h15.1v14h-15.1zM1163.02 944.20h15.1v14h-15.1zM1172.30 946.32h15.1v14h-15.1zM1181.57 946.34h15.1v14h-15.1zM1190.85 945.30h15.1v14h-15.1zM1200.13 943.07h15.1v14h-15.1zM1209.41 939.27h15.1v14h-15.1zM1218.69 934.53h15.1v14h-15.1zM1227.97 930.18h15.1v14h-15.1zM1237.25 926.96h15.1v14h-15.1zM1246.52 925.96h15.1v14h-15.1zM1255.80 926.30h15.1v14h-15.1zM1265.08 929.43h15.1v14h-15.1zM1274.36 934.80h15.1v14h-15.1zM1283.64 941.12h15.1v14h-15.1zM1292.92 946.96h15.1v14h-15.1zM1302.20 955.95h15.1v14h-15.1zM1311.47 967.06h15.1v14h-15.1zM1320.75 978.26h15.1v14h-15.1zM1330.03 989.25h15.1v14h-15.1zM1339.31 1000.10h15.1v14h-15.1zM1348.59 1011.27h15.1v14h-15.1zM1357.87 1022.80h15.1v14h-15.1zM1367.15 1034.15h15.1v14h-15.1zM1376.42 1045.32h15.1v14h-15.1zM1385.70 1056.19h15.1v14h-15.1zM1394.98 1066.86h15.1v14h-15.1zM1404.26 1076.84h15.1v14h-15.1zM1413.54 1085.92h15.1v14h-15.1zM1422.82 1094.22h15.1v14h-15.1zM1432.10 1101.73h15.1v14h-15.1zM1441.37 1108.49h15.1v14h-15.1zM1450.65 1114.27h15.1v14h-15.1zM1459.93 1119.33h15.1v14h-15.1zM1469.21 1123.81h15.1v14h-15.1zM1478.49 1127.81h15.1v14h-15.1zM1487.77 1131.28h15.1v14h-15.1zM1497.04 1134.38h15.1v14h-15.1zM1506.32 1136.77h15.1v14h-15.1zM1515.60 1138.59h15.1v14h-15.1zM1524.88 1140.08h15.1v14h-15.1zM1534.16 1141.36h15.1v14h-15.1zM1543.44 1142.40h15.1v14h-15.1zM1552.72 1143.27h15.1v14h-15.1zM1561.99 1143.99h15.1v14h-15.1zM1571.27 1144.34h15.1v14h-15.1zM1580.55 1144.55h15.1v14h-15.1zM1589.83 1144.66h15.1v14h-15.1zM1599.11 1144.60h15.1v14h-15.1zM1608.39 1144.27h15.1v14h-15.1zM1617.67 1143.73h15.1v14h-15.1z" fill="#000"/>
<path d="M1013.18 966.10L1022.46 959.49L1031.74 952.45L1041.02 944.82L1050.30 936.61L1059.57 929.15L1068.85 922.19L1078.13 916.56L1087.41 912.44L1096.69 910.33L1105.97 910.56L1115.25 913.70L1124.52 920.10L1133.80 927.34L1143.08 934.65L1152.36 941.51L1161.64 947.86L1170.92 951.60L1180.20 953.72L1189.47 953.74L1198.75 952.70L1208.03 950.47L1217.31 946.67L1226.59 941.93L1235.87 937.58L1245.15 934.36L1254.42 933.36L1263.70 933.70L1272.98 936.83L1282.26 942.20L1291.54 948.52L1300.82 954.36L1310.10 963.35L1319.37 974.46L1328.65 985.66L1337.93 996.65L1347.21 1007.50L1356.49 1018.67L1365.77 1030.20L1375.05 1041.55L1384.32 1052.72L1393.60 1063.59L1402.88 1074.26L1412.16 1084.24L1421.44 1093.32L1430.72 1101.62L1440.00 1109.13L1449.27 1115.89L1458.55 1121.67L1467.83 1126.73L1477.11 1131.21L1486.39 1135.21L1495.67 1138.68L1504.94 1141.78L1514.22 1144.17L1523.50 1145.99L1532.78 1147.48L1542.06 1148.76L1551.34 1149.80L1560.62 1150.67L1569.89 1151.39L1579.17 1151.74L1588.45 1151.95L1597.73 1152.06L1607.01 1152.00L1616.29 1151.67L1625.57 1151.13" stroke="#808080" stroke-width="4.7" fill="none" stroke-linecap="round" stroke-linejoin="round"/>
<path d="M1013.18 1105.64L1022.46 1105.43L1031.74 1104.94L1041.02 1103.52L1050.30 1101.09L1059.57 1096.70L1068.85 1090.44L1078.13 1081.31L1087.41 1071.13L1096.69 1059.83L1105.97 1048.22L1115.25 1036.67L1124.52 1026.09L1133.80 1017.73L1143.08 1012.27L1152.36 1009.49L1161.64 1009.64L1170.92 1010.29L1180.20 1011.12L1189.47 1012.05L1198.75 1012.08L1208.03 1011.01L1217.31 1008.64L1226.59 1003.89L1235.87 997.60L1245.15 989.57L1254.42 979.29L1263.70 967.85L1272.98 955.33L1282.26 944.12L1291.54 934.52L1300.82 926.74L1310.10 917.48L1319.37 908.89L1328.65 902.53L1337.93 899.05L1347.21 896.93L1356.49 895.09L1365.77 893.95L1375.05 894.18L1384.32 895.06L1393.60 897.49L1402.88 901.07L1412.16 905.73L1421.44 911.07L1430.72 916.46L1440.00 921.98L1449.27 927.30L1458.55 932.54L1467.83 937.81L1477.11 943.11L1486.39 948.57L1495.67 954.20L1504.94 960.05L1514.22 966.21L1523.50 972.00L1532.78 977.28L1542.06 982.04L1551.34 986.10L1560.62 989.98L1569.89 994.12L1579.17 998.28L1588.45 1002.20L1597.73 1005.96L1607.01 1009.64L1616.29 1013.24L1625.57 1016.76" stroke="#fa0505" stroke-width="4.6" fill="none" stroke-linecap="round" stroke-linejoin="round"/>
<path d="M1004.63 1105.64l8.55 -8.55l8.55 8.55l-8.55 8.55zM1013.91 1105.43l8.55 -8.55l8.55 8.55l-8.55 8.55zM1023.19 1104.94l8.55 -8.55l8.55 8.55l-8.55 8.55zM1032.47 1103.52l8.55 -8.55l8.55 8.55l-8.55 8.55zM1041.75 1101.09l8.55 -8.55l8.55 8.55l-8.55 8.55zM1051.02 1096.70l8.55 -8.55l8.55 8.55l-8.55 8.55zM1060.30 1090.44l8.55 -8.55l8.55 8.55l-8.55 8.55zM1069.58 1081.31l8.55 -8.55l8.55 8.55l-8.55 8.55zM1078.86 1071.13l8.55 -8.55l8.55 8.55l-8.55 8.55zM1088.14 1059.83l8.55 -8.55l8.55 8.55l-8.55 8.55zM1097.42 1048.22l8.55 -8.55l8.55 8.55l-8.55 8.55zM1106.70 1036.67l8.55 -8.55l8.55 8.55l-8.55 8.55zM1115.97 1026.09l8.55 -8.55l8.55 8.55l-8.55 8.55zM1125.25 1017.73l8.55 -8.55l8.55 8.55l-8.55 8.55zM1134.53 1012.27l8.55 -8.55l8.55 8.55l-8.55 8.55zM1143.81 1009.49l8.55 -8.55l8.55 8.55l-8.55 8.55zM1153.09 1009.64l8.55 -8.55l8.55 8.55l-8.55 8.55zM1162.37 1010.29l8.55 -8.55l8.55 8.55l-8.55 8.55zM1171.65 1011.12l8.55 -8.55l8.55 8.55l-8.55 8.55zM1180.92 1012.05l8.55 -8.55l8.55 8.55l-8.55 8.55zM1190.20 1012.08l8.55 -8.55l8.55 8.55l-8.55 8.55zM1199.48 1011.01l8.55 -8.55l8.55 8.55l-8.55 8.55zM1208.76 1008.64l8.55 -8.55l8.55 8.55l-8.55 8.55zM1218.04 1003.89l8.55 -8.55l8.55 8.55l-8.55 8.55zM1227.32 997.60l8.55 -8.55l8.55 8.55l-8.55 8.55zM1236.60 989.57l8.55 -8.55l8.55 8.55l-8.55 8.55zM1245.87 979.29l8.55 -8.55l8.55 8.55l-8.55 8.55zM1255.15 967.85l8.55 -8.55l8.55 8.55l-8.55 8.55zM1264.43 955.33l8.55 -8.55l8.55 8.55l-8.55 8.55zM1273.71 944.12l8.55 -8.55l8.55 8.55l-8.55 8.55zM1282.99 934.52l8.55 -8.55l8.55 8.55l-8.55 8.55zM1292.27 926.74l8.55 -8.55l8.55 8.55l-8.55 8.55zM1301.55 917.48l8.55 -8.55l8.55 8.55l-8.55 8.55zM1310.82 908.89l8.55 -8.55l8.55 8.55l-8.55 8.55zM1320.10 902.53l8.55 -8.55l8.55 8.55l-8.55 8.55zM1329.38 899.05l8.55 -8.55l8.55 8.55l-8.55 8.55zM1338.66 896.93l8.55 -8.55l8.55 8.55l-8.55 8.55zM1347.94 895.09l8.55 -8.55l8.55 8.55l-8.55 8.55zM1357.22 893.95l8.55 -8.55l8.55 8.55l-8.55 8.55zM1366.50 894.18l8.55 -8.55l8.55 8.55l-8.55 8.55zM1375.77 895.06l8.55 -8.55l8.55 8.55l-8.55 8.55zM1385.05 897.49l8.55 -8.55l8.55 8.55l-8.55 8.55zM1394.33 901.07l8.55 -8.55l8.55 8.55l-8.55 8.55zM1403.61 905.73l8.55 -8.55l8.55 8.55l-8.55 8.55zM1412.89 911.07l8.55 -8.55l8.55 8.55l-8.55 8.55zM1422.17 916.46l8.55 -8.55l8.55 8.55l-8.55 8.55zM1431.45 921.98l8.55 -8.55l8.55 8.55l-8.55 8.55zM1440.72 927.30l8.55 -8.55l8.55 8.55l-8.55 8.55zM1450.00 932.54l8.55 -8.55l8.55 8.55l-8.55 8.55zM1459.28 937.81l8.55 -8.55l8.55 8.55l-8.55 8.55zM1468.56 943.11l8.55 -8.55l8.55 8.55l-8.55 8.55zM1477.84 948.57l8.55 -8.55l8.55 8.55l-8.55 8.55zM1487.12 954.20l8.55 -8.55l8.55 8.55l-8.55 8.55zM1496.39 960.05l8.55 -8.55l8.55 8.55l-8.55 8.55zM1505.67 966.21l8.55 -8.55l8.55 8.55l-8.55 8.55zM1514.95 972.00l8.55 -8.55l8.55 8.55l-8.55 8.55zM1524.23 977.28l8.55 -8.55l8.55 8.55l-8.55 8.55zM1533.51 982.04l8.55 -8.55l8.55 8.55l-8.55 8.55zM1542.79 986.10l8.55 -8.55l8.55 8.55l-8.55 8.55zM1552.07 989.98l8.55 -8.55l8.55 8.55l-8.55 8.55zM1561.34 994.12l8.55 -8.55l8.55 8.55l-8.55 8.55zM1570.62 998.28l8.55 -8.55l8.55 8.55l-8.55 8.55zM1579.90 1002.20l8.55 -8.55l8.55 8.55l-8.55 8.55zM1589.18 1005.96l8.55 -8.55l8.55 8.55l-8.55 8.55zM1598.46 1009.64l8.55 -8.55l8.55 8.55l-8.55 8.55zM1607.74 1013.24l8.55 -8.55l8.55 8.55l-8.55 8.55zM1617.02 1016.76l8.55 -8.55l8.55 8.55l-8.55 8.55z" stroke="#fa0505" stroke-width="2.9" fill="none" stroke-linejoin="miter"/>
<path d="M972.50 1176.17h9.6M972.50 1095.01h9.6M972.50 1013.85h9.6M972.50 932.70h9.6M972.50 851.54h9.6M972.50 770.38h9.6M972.50 1135.59h4.8M972.50 1054.43h4.8M972.50 973.27h4.8M972.50 892.12h4.8M972.50 810.96h4.8M1137.88 1216.75v-9.6M1303.25 1216.75v-9.6M1468.62 1216.75v-9.6M1055.19 1216.75v-4.8M1220.56 1216.75v-4.8M1385.94 1216.75v-4.8M1551.31 1216.75v-4.8" stroke="#000" stroke-width="3.4" fill="none" stroke-linecap="round"/>
<rect x="972.50" y="729.80" width="661.50" height="486.95" fill="none" stroke="#000" stroke-width="3.6" stroke-linejoin="round"/>
<text x="961.30" y="1185.57" text-anchor="end" font-family="Liberation Sans, Arial, sans-serif" font-weight="bold" font-size="32.2">-10</text>
<text x="961.30" y="1104.41" text-anchor="end" font-family="Liberation Sans, Arial, sans-serif" font-weight="bold" font-size="32.2">0</text>
<text x="961.30" y="1023.25" text-anchor="end" font-family="Liberation Sans, Arial, sans-serif" font-weight="bold" font-size="32.2">10</text>
<text x="961.30" y="942.10" text-anchor="end" font-family="Liberation Sans, Arial, sans-serif" font-weight="bold" font-size="32.2">20</text>
<text x="961.30" y="860.94" text-anchor="end" font-family="Liberation Sans, Arial, sans-serif" font-weight="bold" font-size="32.2">30</text>
<text x="961.30" y="779.78" text-anchor="end" font-family="Liberation Sans, Arial, sans-serif" font-weight="bold" font-size="32.2">40</text>
<text x="972.50" y="1252.25" text-anchor="middle" font-family="Liberation Sans, Arial, sans-serif" font-weight="bold" font-size="31.6">1</text>
<text x="1137.88" y="1252.25" text-anchor="middle" font-family="Liberation Sans, Arial, sans-serif" font-weight="bold" font-size="31.6">2</text>
<text x="1303.25" y="1252.25" text-anchor="middle" font-family="Liberation Sans, Arial, sans-serif" font-weight="bold" font-size="31.6">3</text>
<text x="1468.62" y="1252.25" text-anchor="middle" font-family="Liberation Sans, Arial, sans-serif" font-weight="bold" font-size="31.6">4</text>
<text x="1634.00" y="1252.25" text-anchor="middle" font-family="Liberation Sans, Arial, sans-serif" font-weight="bold" font-size="31.6">5</text>
<text x="1303.55" y="1306.35" text-anchor="middle" font-family="Liberation Sans, Arial, sans-serif" font-weight="bold" font-size="36">Photon energy (eV)</text>
<text transform="translate(893.50 972.90) rotate(-90)" text-anchor="middle" font-family="Liberation Sans, Arial, sans-serif" font-weight="bold" font-size="37.3">Epsilon</text>
<rect x="1073.10" y="743.90" width="456.80" height="99.40" fill="#fff" stroke="#8a8a8a" stroke-width="1.3"/>
<rect x="1103.80" y="763.70" width="15" height="14.5" fill="#000"/>
<text font-family="Liberation Sans, Arial, sans-serif" font-weight="bold" font-size="24.2"><tspan x="1148.50" y="778.90" font-weight="normal" font-size="25" stroke="#000" stroke-width="0.8" textLength="12.1" lengthAdjust="spacingAndGlyphs">ε</tspan><tspan x="1160.50" y="788.70" font-size="20">1</tspan> <tspan x="1178.60" y="778.20" textLength="120.91" lengthAdjust="spacingAndGlyphs">measured</tspan><tspan font-weight="normal">,</tspan></text>
<path d="M1324.25 771.30l8.55 -8.55l8.55 8.55l-8.55 8.55z" stroke="#fa0505" stroke-width="2.9" fill="#fff"/>
<text font-family="Liberation Sans, Arial, sans-serif" font-weight="bold" font-size="24.2"><tspan x="1372.60" y="778.90" font-weight="normal" font-size="25" stroke="#000" stroke-width="0.8" textLength="12.1" lengthAdjust="spacingAndGlyphs">ε</tspan><tspan x="1384.60" y="788.70" font-size="20">2</tspan> <tspan x="1402.80" y="778.20" textLength="120.91" lengthAdjust="spacingAndGlyphs">measured</tspan></text>
<path d="M1085.80 818.00h52" stroke="#808080" stroke-width="5.6" stroke-linecap="round"/>
<text font-family="Liberation Sans, Arial, sans-serif" font-weight="bold" font-size="24.2"><tspan x="1152.80" y="825.40" font-weight="normal" font-size="25" stroke="#000" stroke-width="0.8" textLength="12.1" lengthAdjust="spacingAndGlyphs">ε</tspan><tspan x="1164.80" y="835.20" font-size="20">1</tspan> <tspan x="1182.80" y="824.70" textLength="105.24" lengthAdjust="spacingAndGlyphs">modeled</tspan><tspan font-weight="normal">,</tspan></text>
<path d="M1302.60 818.00h51.5" stroke="#fa0505" stroke-width="5.6" stroke-linecap="round"/>
<text font-family="Liberation Sans, Arial, sans-serif" font-weight="bold" font-size="24.2"><tspan x="1369.30" y="825.40" font-weight="normal" font-size="25" stroke="#000" stroke-width="0.8" textLength="12.1" lengthAdjust="spacingAndGlyphs">ε</tspan><tspan x="1381.30" y="835.20" font-size="20">2</tspan> <tspan x="1399.80" y="824.70" textLength="105.24" lengthAdjust="spacingAndGlyphs">modeled</tspan></text>
</svg>
</body></html>
